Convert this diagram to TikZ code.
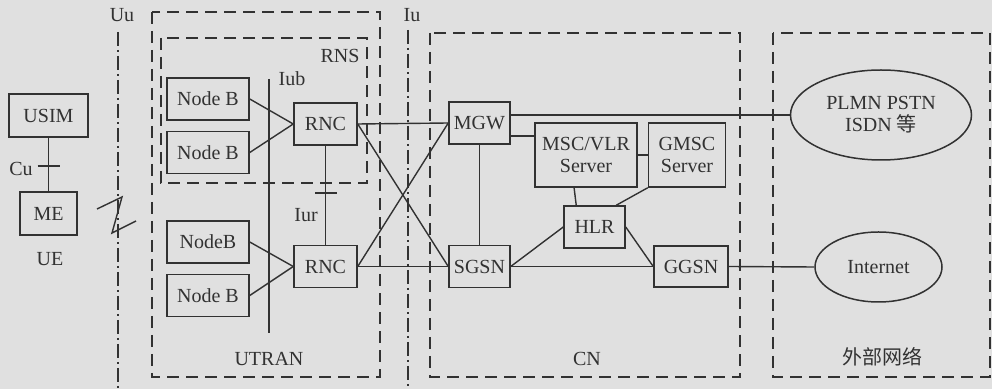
\documentclass[tikz,border=0pt]{standalone}
\usepackage{fontspec}
\setmainfont{Liberation Serif}
\newfontfamily\cjk{Noto Sans CJK SC}
\usepackage{xcolor}
\usepackage{tikz}
\usetikzlibrary{positioning,shapes.geometric,calc}
\definecolor{paper}{RGB}{224,224,224}
\definecolor{ink}{RGB}{50,50,50}
\tikzset{
  box/.style={draw=ink, line width=0.75pt, inner sep=1pt, align=center,
              text=ink, font=\fontsize{10}{11}\selectfont},
  netcloud/.style={box, ellipse},
  link/.style={draw=ink, line width=0.7pt},
  frame/.style={draw=ink, line width=0.7pt, dash pattern=on 6pt off 3.5pt},
  iface/.style={draw=ink, line width=0.7pt, dash pattern=on 7pt off 2pt on 1pt off 2pt},
  lbl/.style={text=ink, inner sep=1pt, font=\fontsize{10}{11}\selectfont}
}
\begin{document}
\begin{tikzpicture}[x=0.5pt,y=-0.5pt]
  \fill[paper] (0,0) rectangle (992,389);
  \useasboundingbox (0,0) rectangle (992,389);

  \draw[frame] (152,12) rectangle (380,377);
  \draw[frame] (161,38) rectangle (367,183);
  \draw[frame] (430,33) rectangle (740,377);
  \draw[frame] (773,33) rectangle (990,377);
  \draw[iface] (118,32) -- (118,389);
  \draw[iface] (408,30) -- (408,389);

  \node[box, minimum width=39.5pt, minimum height=21.5pt] (usim) at (48.5,115.5) {USIM};
  \node[box, minimum width=28.5pt, minimum height=21.5pt] (me) at (48.5,213.5) {ME};
  \node[box, minimum width=41pt, minimum height=21pt] (nodeb1) at (208,99) {Node B};
  \node[box, minimum width=41pt, minimum height=21pt, below=5pt of nodeb1] (nodeb2) {Node B};
  \node[box, minimum width=41pt, minimum height=21pt] (nodeb3) at (208,242) {NodeB};
  \node[box, minimum width=41pt, minimum height=21pt, below=5pt of nodeb3] (nodeb4) {Node B};
  \node[box, minimum width=31.5pt, minimum height=21pt] (rnc1) at (325.5,124) {RNC};
  \node[box, minimum width=31.5pt, minimum height=21pt] (rnc2) at (325.5,266.5) {RNC};
  \node[box, minimum width=30.5pt, minimum height=21pt] (mgw) at (479.5,123) {MGW};
  \node[box, minimum width=30.5pt, minimum height=21pt] (sgsn) at (479.5,266.5) {SGSN};
  \node[box, minimum width=51pt, minimum height=32pt] (msc) at (586,155) {MSC/VLR\\Server};
  \node[box, minimum width=38.5pt, minimum height=32pt, right=5pt of msc] (gmsc) {GMSC\\Server};
  \node[box, minimum width=30.5pt, minimum height=21pt] (hlr) at (594.5,227) {HLR};
  \node[box, minimum width=37pt, minimum height=20.5pt] (ggsn) at (691,266.5) {GGSN};
  \node[netcloud, minimum width=90.5pt, minimum height=45pt] (plmn) at (881,115) {PLMN PSTN\\ISDN {\cjk 等}};
  \node[netcloud, minimum width=63.5pt, minimum height=35pt] (inet) at (878.5,267) {Internet};

  \node[lbl] (uu) at (122,15) {Uu};
  \node[lbl] (iu) at (412,15) {Iu};
  \node[lbl] (cu) at (21,169) {Cu};
  \node[lbl] (ue) at (50,259) {UE};
  \node[lbl] (iub) at (292,79) {Iub};
  \node[lbl] (iur) at (306,215) {Iur};
  \node[lbl] (rns) at (340,56) {RNS};
  \node[lbl] (utran) at (269,359) {UTRAN};
  \node[lbl] (cn) at (587,359) {CN};
  \node[lbl] (ext) at (882,357) {\cjk 外部网络};

  \coordinate (cutick) at (48.5,166);
  \coordinate (iurtick) at (326,193);
  \coordinate (iubtop) at (269,79);
  \coordinate (iubbot) at (269,333);

  \foreach \u/\v in {usim/me,rnc1/rnc2,mgw/sgsn,msc/gmsc}
    \draw[link] (\u)--(\v);
  \foreach \u/\v in {nodeb1/rnc1,nodeb2/rnc1,nodeb3/rnc2,nodeb4/rnc2,
                     rnc1/mgw,rnc1/sgsn,rnc2/mgw,rnc2/sgsn,
                     sgsn/hlr,sgsn/ggsn,hlr/ggsn,ggsn/inet}
    \draw[link] (\u.east)--(\v.west);
  \draw[link] (plmn.west -| mgw.east) -- (plmn.west);
  \draw[link] ([yshift=-6.5pt]mgw.east) -- ([yshift=-6.5pt]mgw.east -| msc.west);
  \draw[link] (msc.250) -- (hlr.130);
  \draw[link] (gmsc.south west) -- (hlr.45);
  \draw[link] (iubtop) -- (iubbot);
  \draw[link] ([xshift=-5.5pt]cutick) -- ([xshift=5.5pt]cutick);
  \draw[link] ([xshift=-5.5pt]iurtick) -- ([xshift=5.5pt]iurtick);
  \draw[link] (97,209) -- (122,197) -- (112,233) -- (136,221);
\end{tikzpicture}
\end{document}
